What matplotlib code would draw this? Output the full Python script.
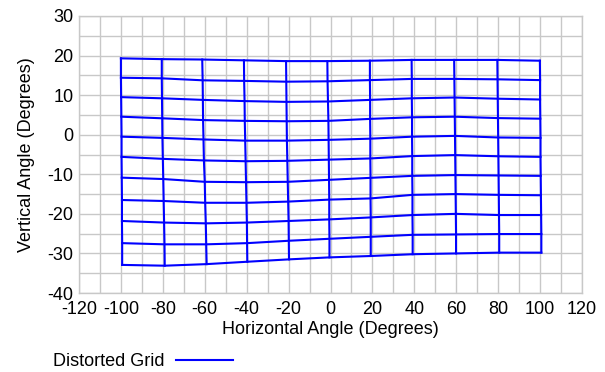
import matplotlib
matplotlib.use("Agg")
import matplotlib.pyplot as plt
import numpy as np

plt.rcParams['font.family'] = ['Liberation Sans', 'DejaVu Sans']
plt.rcParams['axes.unicode_minus'] = False

# Distorted grid node coordinates (rows top to bottom, columns left to right)
grid_x = [
    [-100.0, -80.5, -61.2, -41.3, -21.2, -1.5, 18.8, 38.7, 59.0, 79.6, 99.9],
    [-100.0, -80.5, -61.0, -41.2, -21.1, -1.4, 18.8, 38.8, 59.1, 79.7, 100.0],
    [-99.9, -80.4, -60.9, -41.0, -21.0, -1.2, 18.9, 38.8, 59.2, 79.8, 100.0],
    [-99.8, -80.3, -60.8, -40.9, -20.9, -1.0, 18.9, 38.9, 59.3, 79.9, 100.1],
    [-99.7, -80.2, -60.6, -40.7, -20.8, -0.9, 19.0, 38.9, 59.4, 80.0, 100.2],
    [-99.7, -80.0, -60.4, -40.5, -20.6, -0.8, 19.0, 39.0, 59.5, 80.1, 100.2],
    [-99.6, -79.8, -60.0, -40.3, -20.4, -0.7, 19.1, 39.0, 59.6, 80.2, 100.3],
    [-99.5, -79.6, -59.8, -40.1, -20.2, -0.6, 19.1, 39.1, 59.7, 80.3, 100.4],
    [-99.5, -79.4, -59.5, -39.9, -20.0, -0.6, 19.2, 39.1, 59.8, 80.4, 100.5],
    [-99.4, -79.2, -59.3, -39.8, -19.9, -0.5, 19.2, 39.2, 59.9, 80.5, 100.6],
    [-99.4, -79.1, -59.1, -39.7, -19.8, -0.5, 19.2, 39.2, 59.9, 80.5, 100.6],
]
grid_y = [
    [19.3, 19.1, 19.0, 18.8, 18.6, 18.6, 18.7, 18.9, 18.9, 18.9, 18.7],
    [14.4, 14.25, 13.75, 13.6, 13.4, 13.5, 13.8, 14.1, 14.1, 14.0, 13.8],
    [9.5, 9.2, 8.8, 8.5, 8.3, 8.4, 8.8, 9.2, 9.4, 9.1, 8.9],
    [4.55, 4.15, 3.7, 3.5, 3.4, 3.5, 4.0, 4.4, 4.55, 4.2, 4.05],
    [-0.5, -0.8, -1.2, -1.5, -1.5, -1.3, -1.0, -0.5, -0.3, -0.7, -0.8],
    [-5.6, -6.1, -6.5, -6.7, -6.6, -6.3, -6.0, -5.4, -5.15, -5.45, -5.6],
    [-10.85, -11.2, -11.9, -12.0, -11.9, -11.4, -10.9, -10.4, -10.2, -10.3, -10.4],
    [-16.5, -16.75, -17.2, -17.2, -16.9, -16.4, -16.1, -15.2, -15.0, -15.2, -15.3],
    [-21.8, -22.2, -22.4, -22.2, -21.8, -21.4, -20.9, -20.3, -20.0, -20.3, -20.3],
    [-27.4, -27.7, -27.7, -27.4, -26.8, -26.3, -25.8, -25.3, -25.2, -25.1, -25.1],
    [-32.9, -33.1, -32.7, -32.1, -31.5, -31.0, -30.65, -30.2, -30.0, -29.8, -29.8],
]
x_ticks = [-120, -100, -80, -60, -40, -20, 0, 20, 40, 60, 80, 100, 120]
y_ticks = [-40, -30, -20, -10, 0, 10, 20, 30]
series_name = "Distorted Grid"

gx = np.array(grid_x)
gy = np.array(grid_y)

fig = plt.figure(figsize=(6.05, 3.72), dpi=100)
ax = fig.add_axes([79/605, 1-293/372, (582-79)/605, (293-16)/372])

blue = '#0000ff'
lw = 1.5
fs = 13
handle = None
for i in range(gx.shape[0]):
    l, = ax.plot(gx[i], gy[i], color=blue, lw=lw)
    handle = handle or l
for j in range(gx.shape[1]):
    ax.plot(gx[:, j], gy[:, j], color=blue, lw=lw)

ax.set_xlim(-120, 120)
ax.set_ylim(-40, 30)
ax.set_xticks(x_ticks)
ax.set_yticks(y_ticks)
ax.set_xticks(np.arange(-120, 121, 10), minor=True)
ax.set_yticks(np.arange(-40, 31, 5), minor=True)
ax.grid(True, which='both', color='#c8c8c8', lw=1.0)
ax.set_axisbelow(True)
ax.tick_params(axis='x', which='both', length=0, labelsize=fs, pad=6)
ax.tick_params(axis='y', which='both', length=0, labelsize=fs, pad=4)
for s in ax.spines.values():
    s.set_color('#c8c8c8')
    s.set_linewidth(1.0)

ax.set_xlabel("Horizontal Angle (Degrees)", fontsize=fs, labelpad=2)
ax.set_ylabel("Vertical Angle (Degrees)", fontsize=fs, labelpad=9)

fig.legend([handle], [series_name], loc='center left', bbox_to_anchor=(46/605, 1-362/372),
           markerfirst=False, frameon=False, fontsize=fs, handlelength=3.2,
           handletextpad=0.6, borderaxespad=0)

fig.savefig("out.png", dpi=100)
